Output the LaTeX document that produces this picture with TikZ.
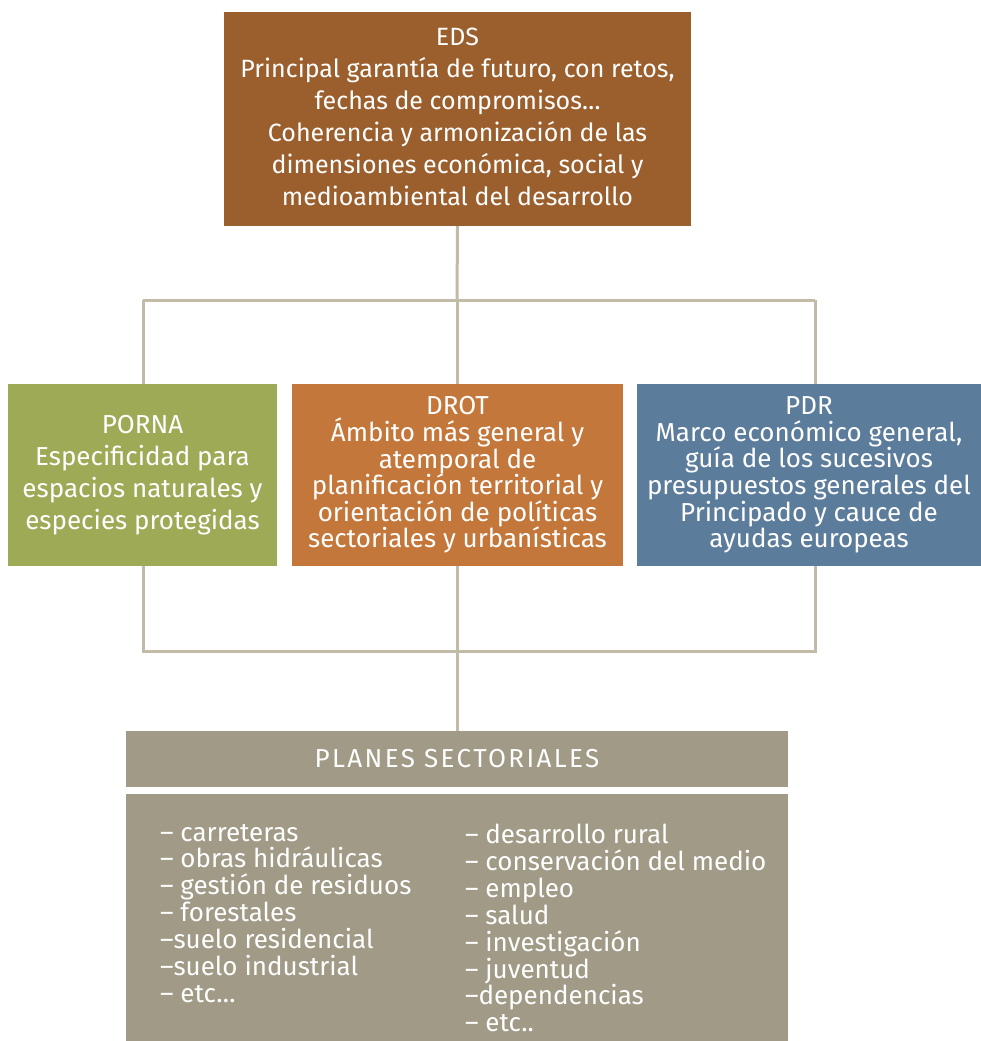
\documentclass[tikz,border=0pt]{standalone}
\usepackage{fontspec}
\setmainfont{Fira Sans}
\usetikzlibrary{backgrounds}
\definecolor{edsc}{HTML}{9B5F2E}
\definecolor{pornac}{HTML}{9EAA56}
\definecolor{drotc}{HTML}{C4773A}
\definecolor{pdrc}{HTML}{5C7C9C}
\definecolor{taupe}{HTML}{A09A86}
\definecolor{linec}{HTML}{C2BBA8}
\tikzset{
  box/.style={inner sep=0pt, outer sep=0pt, text=white, align=center, font=\fontsize{25}{32}\selectfont},
  side/.style={font=\fontsize{26}{32}\selectfont},
  tight/.style={font=\fontsize{26}{26.6}\selectfont},
  conn/.style={draw=linec, line width=3pt},
  listtxt/.style={inner sep=0pt, outer sep=0pt, text=white, align=left, anchor=north west, font=\fontsize{26}{26.9}\selectfont}
}
\begin{document}
\begin{tikzpicture}[x=1pt,y=-1pt]
\useasboundingbox (0,0) rectangle (981,1041);
% boxes
\node[box, fill=edsc, minimum width=467pt, minimum height=214pt] (eds) at (457.5,119) {EDS\\Principal garantía de futuro, con retos,\\fechas de compromisos…\\Coherencia y armonización de las\\dimensiones económica, social y\\medioambiental del desarrollo\vspace{4pt}};
\node[box, side, fill=pornac, minimum width=269pt, minimum height=182pt] (porna) at (142.5,475) {PORNA\\Especificidad para\\espacios naturales y\\especies protegidas};
\node[box, tight, fill=drotc, minimum width=331pt, minimum height=182pt] (drot) at (457.5,475) {DROT\\Ámbito más general y\\atemporal de\\planificación territorial y\\orientación de políticas\\sectoriales y urbanísticas};
\node[box, tight, fill=pdrc, minimum width=344pt, minimum height=182pt] (pdr) at (809,475) {PDR\\Marco económico general,\\guía de los sucesivos\\presupuestos generales del\\Principado y cauce de\\ayudas europeas};
\node[box, fill=taupe, minimum width=662pt, minimum height=56pt, font=\fontsize{26}{30}\selectfont\addfontfeature{LetterSpace=9}] (planes) at (457,759) {PLANES SECTORIALES};
\node[box, fill=taupe, minimum width=662pt, minimum height=247pt] (list) at (457,917.5) {};
\node[listtxt] (lcol) at (160,824) {– carreteras\\– obras hidráulicas\\– gestión de residuos\\– forestales\\–suelo residencial\\–suelo industrial\\– etc…};
\node[listtxt] (rcol) at (465,824) {– desarrollo rural\\– conservación del medio\\– empleo\\– salud\\– investigación\\– juventud\\–dependencias\\– etc..};
% junctions
\coordinate (ttop) at (457,300);
\coordinate (tl) at (143,300);
\coordinate (tr) at (815,300);
\coordinate (bmid) at (457,651);
\coordinate (bl) at (143,651);
\coordinate (br) at (815,651);
\begin{scope}[on background layer]
\draw[conn] (eds.south) -- (ttop);
\draw[conn] (tl) -- (tr);
\draw[conn] (tl) -- (tl |- porna.north);
\draw[conn] (tr) -- (tr |- pdr.north);
\draw[conn] (ttop) -- (ttop |- drot.north);
\draw[conn] (bl |- porna.south) -- (bl) -- (br) -- (br |- pdr.south);
\draw[conn] (bmid |- drot.south) -- (planes.north);
\end{scope}
\end{tikzpicture}
\end{document}
